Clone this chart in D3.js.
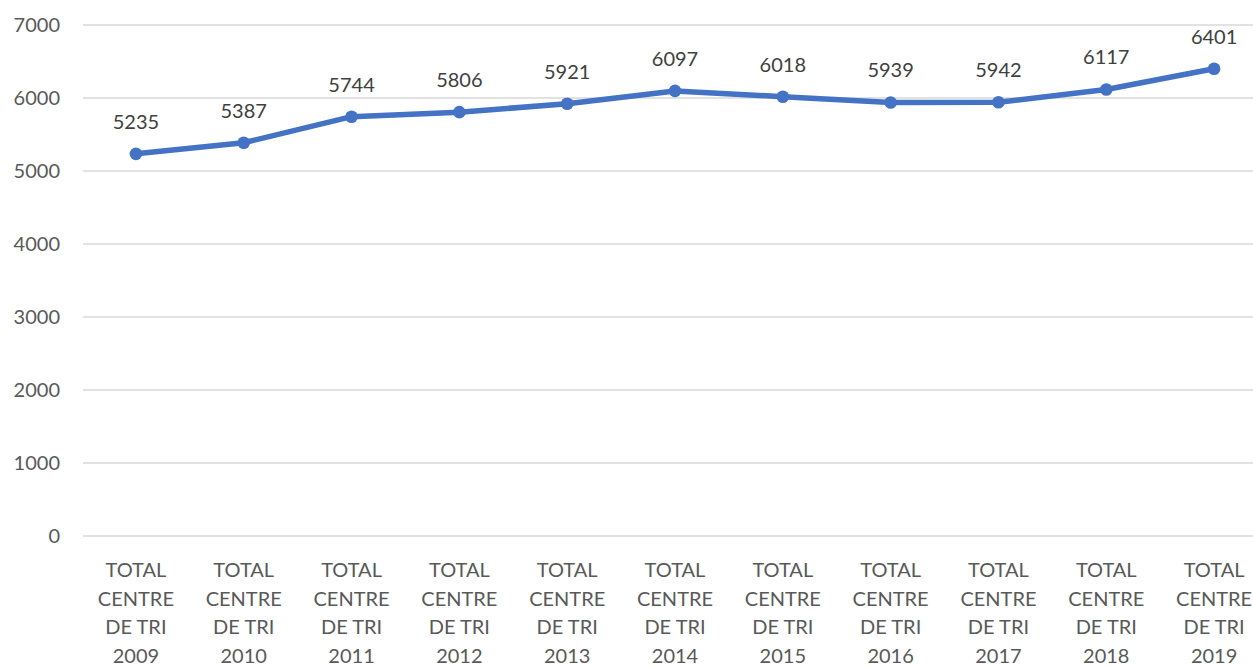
<!DOCTYPE html>
<html>
<head>
<meta charset="utf-8">
<script src="https://cdn.jsdelivr.net/npm/d3@7"></script>
<style>
  body { margin: 0; background: #fff; }
  text { font-family: Lato, "Open Sans", sans-serif; }
</style>
</head>
<body>
<div id="chart"></div>
<script>
const years = ["2009","2010","2011","2012","2013","2014","2015","2016","2017","2018","2019"];
const values = [5235, 5387, 5744, 5806, 5921, 6097, 6018, 5939, 5942, 6117, 6401];
const yTicks = [0, 1000, 2000, 3000, 4000, 5000, 6000, 7000];

const W = 1253, H = 667;
const svg = d3.select("#chart").append("svg")
    .attr("width", W)
    .attr("height", H);

const x = d3.scaleBand()
  .domain(years)
  .range([82, 1268]);
const y = d3.scaleLinear()
  .domain([0, 7000])
  .range([536, 25]);

// gridlines
svg.append("g")
  .selectAll("line")
  .data(yTicks)
  .enter().append("line")
  .attr("x1", 83).attr("x2", W)
  .attr("y1", d => y(d)).attr("y2", d => y(d))
  .attr("stroke", "#d9d9d9")
  .attr("stroke-width", 1.3);

// y labels
svg.append("g")
  .selectAll("text")
  .data(yTicks)
  .enter().append("text")
  .attr("x", 60)
  .attr("y", d => y(d))
  .attr("dy", "0.35em")
  .attr("text-anchor", "end")
  .attr("fill", "#595959")
  .style("font-size", "20px")
  .text(d => d);

// x labels
const xl = svg.append("g")
  .selectAll("text")
  .data(years)
  .enter().append("text")
  .attr("text-anchor", "middle")
  .attr("fill", "#595959")
  .style("font-size", "20px");
const lines = ["TOTAL", "CENTRE", "DE TRI"];
xl.each(function(d) {
  const t = d3.select(this);
  const cx = x(d) + x.bandwidth() / 2;
  lines.concat([d]).forEach((s, i) => {
    t.append("tspan")
      .attr("x", cx)
      .attr("y", 577 + i * 28.5)
      .text(s);
  });
});

const cx = d => x(d) + x.bandwidth() / 2;
const pts = years.map((yr, i) => ({yr, v: values[i]}));

svg.append("path")
  .datum(pts)
  .attr("fill", "none")
  .attr("stroke", "#4472C4")
  .attr("stroke-width", 5.5)
  .attr("stroke-linejoin", "round")
  .attr("d", d3.line().x(d => cx(d.yr)).y(d => y(d.v)));

svg.append("g")
  .selectAll("circle")
  .data(pts)
  .enter().append("circle")
  .attr("cx", d => cx(d.yr))
  .attr("cy", d => y(d.v))
  .attr("r", 6.3)
  .attr("fill", "#4472C4");

svg.append("g")
  .selectAll("text")
  .data(pts)
  .enter().append("text")
  .attr("x", d => cx(d.yr))
  .attr("y", d => y(d.v) - 25)
  .attr("text-anchor", "middle")
  .attr("fill", "#404040")
  .style("font-size", "20px")
  .text(d => d.v);
</script>
</body>
</html>
